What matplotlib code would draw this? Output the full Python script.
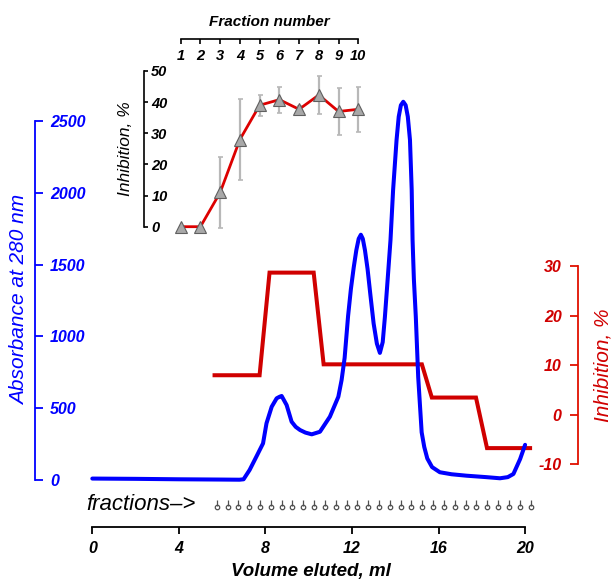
import matplotlib
matplotlib.use('Agg')
import matplotlib.pyplot as plt
from matplotlib.transforms import offset_copy

plt.rcParams['font.family'] = ['Liberation Sans', 'DejaVu Sans']

# ---------------- data ----------------
volume_ml = [0.0, 2.0, 4.0, 5.0, 6.0, 6.8, 6.99, 7.27, 7.58, 7.89, 8.05, 8.29, 8.52,
             8.66, 8.75, 8.98, 9.21, 9.40, 9.60, 9.85, 10.14, 10.52, 10.98, 11.37,
             11.52, 11.66, 11.82, 11.95, 12.08, 12.20, 12.31, 12.41, 12.50, 12.60,
             12.72, 12.85, 13.00, 13.15, 13.29, 13.42, 13.52, 13.65, 13.78,
             13.90, 14.06, 14.16, 14.26, 14.37, 14.48, 14.58, 14.68, 14.76, 14.80,
             14.86, 14.95, 15.06, 15.22, 15.34, 15.48, 15.7, 16.06, 16.6, 17.29,
             18.2, 18.84, 19.2, 19.46, 19.77, 20.0]
absorbance = [10, 8, 5, 4, 3, 2, 5, 70, 162, 255, 395, 510, 569,
              580, 585, 522, 406, 370, 348, 330, 318, 336, 441, 580,
              696, 850, 1142, 1330, 1480, 1600, 1680, 1708, 1680, 1600,
              1470, 1290, 1090, 950, 885, 960, 1133, 1400, 1671,
              2019, 2368, 2530, 2610, 2634, 2610, 2530, 2368, 2019, 1671,
              1400, 1135, 717, 332, 230, 150, 90, 54, 40, 30,
              20, 12, 20, 42, 146, 245]

inhib_volume_ml = [5.65, 7.73, 8.19, 10.23, 10.69, 15.23, 15.69, 17.73, 18.24, 20.23]
inhib_pct = [8.0, 8.0, 28.7, 28.7, 10.2, 10.2, 3.5, 3.5, -6.7, -6.7]

fraction_marks_ml = [5.75, 6.25, 6.75, 7.25, 7.75, 8.25, 8.75, 9.25, 9.75, 10.25,
                     10.75, 11.25, 11.75, 12.25, 12.75, 13.25, 13.75, 14.25, 14.75, 15.25,
                     15.75, 16.25, 16.75, 17.25, 17.75, 18.25, 18.75, 19.25, 19.75, 20.25]

inset_fraction = [1, 2, 3, 4, 5, 6, 7, 8, 9, 10]
inset_inhib = [0, 0, 11, 28, 39, 40.8, 37.7, 42.3, 37, 37.7]
inset_err = [0, 0, 11.5, 13, 3.3, 4.2, 1, 6, 7.5, 7.3]

x_ticks = [0, 4, 8, 12, 16, 20]
left_ticks = [0, 500, 1000, 1500, 2000, 2500]
right_ticks = [-10, 0, 10, 20, 30]
inset_yticks = [0, 10, 20, 30, 40, 50]

# ---------------- layout ----------------
W, H, DPI = 613, 579, 100
PT = 72.0 / DPI  # points per pixel
fig = plt.figure(figsize=(W / DPI, H / DPI), dpi=DPI)

def rect(x0, x1, ytop, ybot):
    return [x0 / W, 1 - ybot / H, (x1 - x0) / W, (ybot - ytop) / H]

BLUE = '#0000ff'
RED = '#d00000'
RED_AX = '#e01000'
BI = dict(fontweight='bold', fontstyle='italic')

# main axes: x 0 -> px 92.3, 21.64 px/ml ; y 0 -> px 480, 0.1436 px/unit
x0px, sx = 92.3, 21.64
xlim = (0, 20.5)
y0px, sy = 480.0, 0.1436
ylim = (0, 2680)
ax = fig.add_axes(rect(x0px, x0px + xlim[1] * sx, y0px - ylim[1] * sy, y0px))
ax.set_xlim(*xlim)
ax.set_ylim(*ylim)

ax2 = ax.twinx()
r0px, rs = 414.9, 4.9575
ax2.set_ylim((r0px - y0px) / rs, (r0px - (y0px - ylim[1] * sy)) / rs)

ax2.plot(inhib_volume_ml, inhib_pct, color=RED, lw=2.9, solid_joinstyle='miter',
         clip_on=False, zorder=3)
ax.plot(volume_ml, absorbance, color=BLUE, lw=2.9, clip_on=False, zorder=3,
        solid_capstyle='round', solid_joinstyle='round')
ax.set_zorder(ax2.get_zorder() + 1)
ax.patch.set_visible(False)

# spines main
for s in ['top', 'right']:
    ax.spines[s].set_visible(False)
ax.spines['left'].set_position(('outward', (x0px - 35) * PT))
ax.spines['left'].set_bounds(0, 2500)
ax.spines['left'].set_color(BLUE)
ax.spines['left'].set_linewidth(1.3)
ax.spines['bottom'].set_position(('outward', (526.7 - y0px) * PT))
ax.spines['bottom'].set_bounds(0, 20)
ax.spines['bottom'].set_linewidth(1.3)

ax.set_xticks(x_ticks)
ax.set_xticklabels([str(v) for v in x_ticks], fontsize=11.5, **BI)
ax.tick_params(axis='x', direction='out', length=5, width=1.3, pad=5)

ax.set_yticks(left_ticks)
ax.set_yticklabels([str(v) for v in left_ticks], fontsize=11.5, color=BLUE, **BI)
ax.tick_params(axis='y', direction='in', length=6, width=1.3, color=BLUE,
               pad=-15 * PT)
for lbl in ax.get_yticklabels():
    lbl.set_horizontalalignment('left')

for s in ['top', 'left', 'bottom']:
    ax2.spines[s].set_visible(False)
ax2.spines['right'].set_position(('outward', (578.3 - (x0px + xlim[1] * sx)) * PT))
ax2.spines['right'].set_bounds(-10, 30)
ax2.spines['right'].set_color(RED_AX)
ax2.spines['right'].set_linewidth(1.3)
ax2.set_yticks(right_ticks)
ax2.set_yticklabels([str(v) for v in right_ticks], fontsize=11.5, color=RED, **BI)
ax2.tick_params(axis='y', direction='in', length=6, width=1.3, color=RED_AX,
                pad=-16.6 * PT)
for lbl in ax2.get_yticklabels():
    lbl.set_horizontalalignment('right')

# fraction markers
frac_y = (y0px - 507.0) / (ylim[1] * sy)
trans = ax.get_xaxis_transform()
ax.plot(fraction_marks_ml, [frac_y] * len(fraction_marks_ml), linestyle='none',
        marker='o', ms=3.2, mfc='white', mec='#505050', mew=0.9, transform=trans,
        clip_on=False)
ax.plot(fraction_marks_ml, [frac_y] * len(fraction_marks_ml), linestyle='none',
        marker='|', ms=4, mec='#505050', mew=0.9,
        transform=offset_copy(trans, fig=fig, y=4.5, units='dots'), clip_on=False)

# labels (pixel positions)
def ftext(x, y, s, **kw):
    fig.text(x / W, 1 - y / H, s, **kw)

ftext(20, 300, 'Absorbance at 280 nm', rotation=90, ha='center', va='center',
      fontsize=15, fontstyle='italic', color=BLUE)
ftext(603, 365, 'Inhibition, %', rotation=90, ha='center', va='center',
      fontsize=15, fontstyle='italic', color=RED)
ftext(310.5, 571.5, 'Volume eluted, ml', ha='center', va='center', fontsize=13.5, **BI)
ftext(86.7, 505, 'fractions\u2013>', ha='left', va='center', fontsize=16,
      fontstyle='italic')

# ---------------- inset ----------------
ix0, isx = 180.7, 19.733
iy0, isy = 226.7, 3.114
ixlim = (0.5, 10.5)
iylim = (-2.5, 50)
axi = fig.add_axes(rect(ix0 + (ixlim[0] - 1) * isx, ix0 + (ixlim[1] - 1) * isx,
                        iy0 - iylim[1] * isy, iy0 - iylim[0] * isy))
axi.set_xlim(*ixlim)
axi.set_ylim(*iylim)
axi.patch.set_visible(False)
axi.errorbar(inset_fraction, inset_inhib, yerr=inset_err, fmt='none',
             ecolor='#b8b8b8', elinewidth=1.6, capsize=1.8, capthick=1.2, zorder=2,
             clip_on=False)
axi.plot(inset_fraction, inset_inhib, color='#dd0000', lw=2.0, zorder=3, clip_on=False)
axi.plot(inset_fraction, inset_inhib, linestyle='none', marker='^', ms=9,
         mfc='#a8a8a8', mec='#606060', mew=0.8, zorder=4, clip_on=False)

for s in ['bottom', 'right']:
    axi.spines[s].set_visible(False)
axi.spines['left'].set_position(('outward', (ix0 + (ixlim[0] - 1) * isx - 144.3) * PT))
axi.spines['left'].set_bounds(0, 50)
axi.spines['top'].set_position(('outward', (iy0 - iylim[1] * isy - 39.3) * PT))
axi.spines['top'].set_bounds(1, 10)
for s in ['left', 'top']:
    axi.spines[s].set_linewidth(1.2)

axi.xaxis.tick_top()
axi.set_xticks(inset_fraction)
axi.set_xticklabels([str(v) for v in inset_fraction], fontsize=10.5, **BI)
axi.tick_params(axis='x', direction='in', length=3.5, width=1.2, pad=-10 * PT)
for lbl in axi.get_xticklabels():
    lbl.set_verticalalignment('top')

axi.set_yticks(inset_yticks)
axi.set_yticklabels([str(v) for v in inset_yticks], fontsize=10.5, **BI)
axi.tick_params(axis='y', direction='in', length=3, width=1.2, pad=-7 * PT)
for lbl in axi.get_yticklabels():
    lbl.set_horizontalalignment('left')

ftext(269.3, 22, 'Fraction number', ha='center', va='center', fontsize=11, **BI)
ftext(126, 149, 'Inhibition, %', rotation=90, ha='center', va='center',
      fontsize=12.5, fontstyle='italic')

fig.savefig('out.png', dpi=DPI)
